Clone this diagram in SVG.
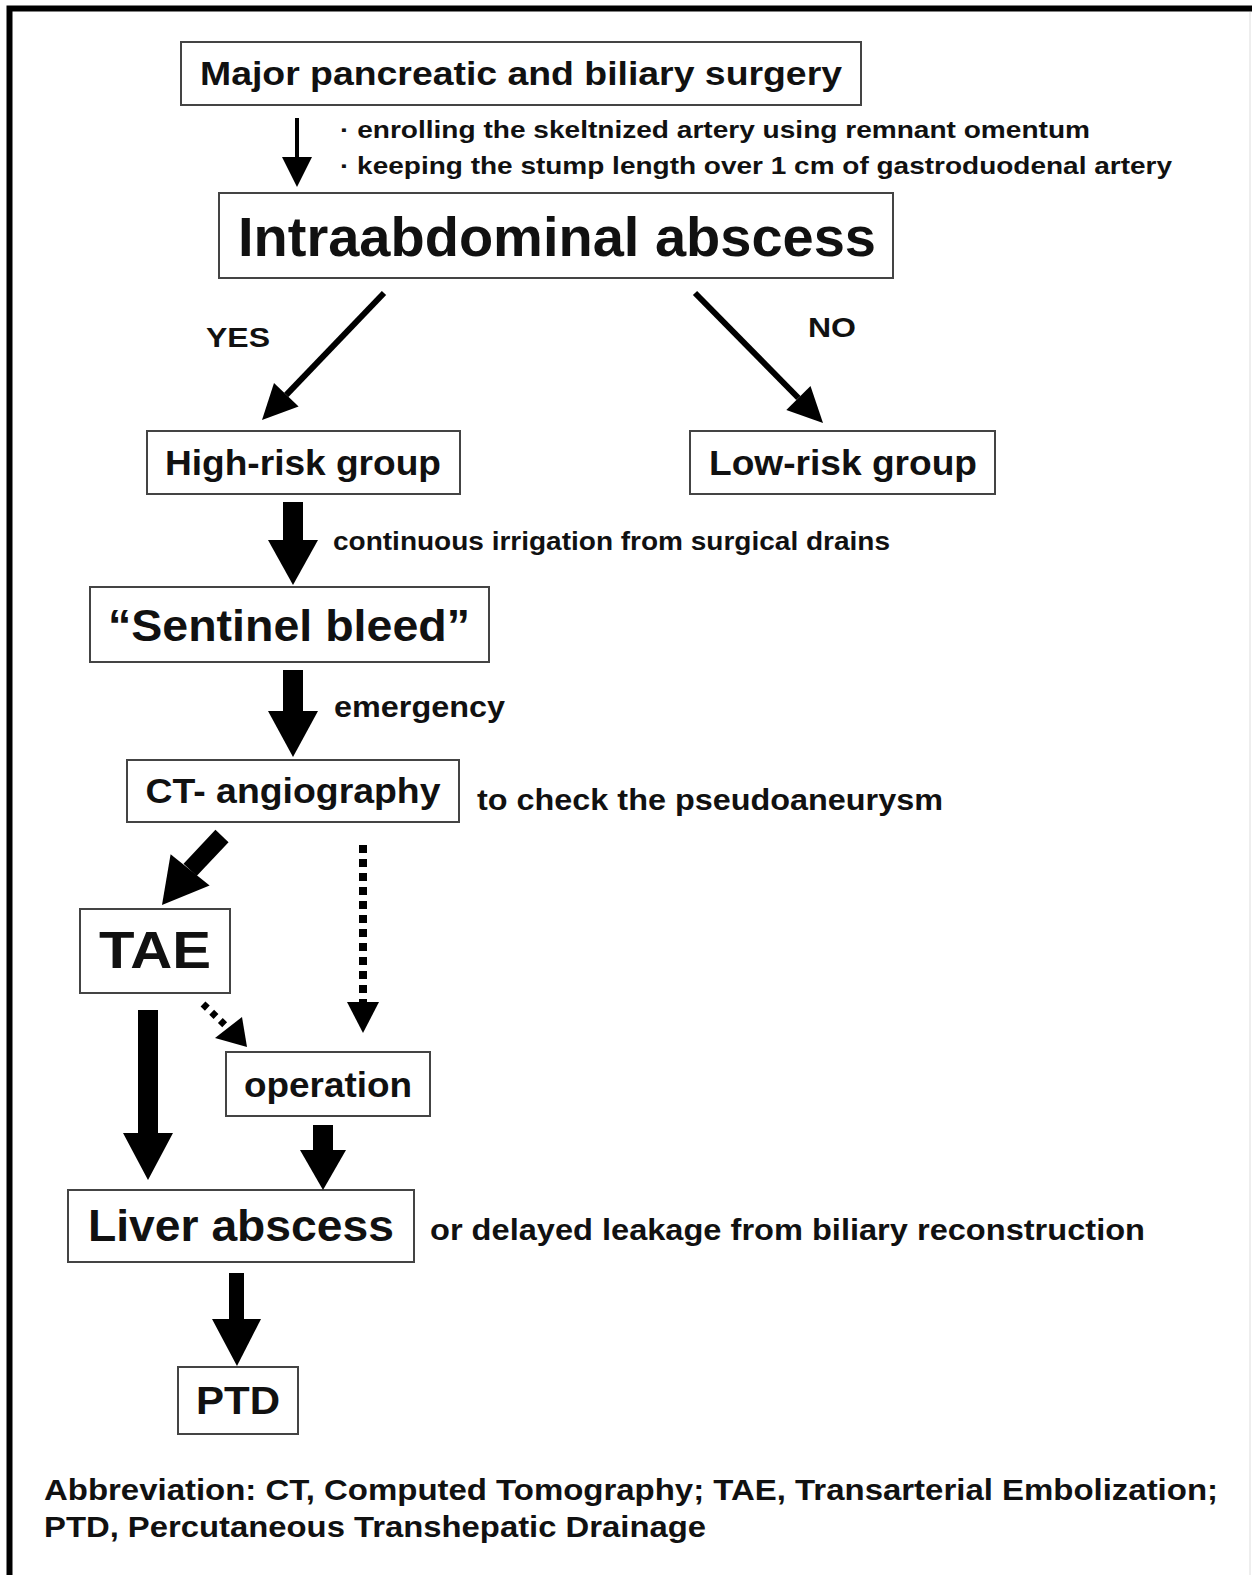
<svg xmlns="http://www.w3.org/2000/svg" width="1252" height="1575" viewBox="0 0 1252 1575">
<style>
text{font-family:"Liberation Sans",Arial,Helvetica,sans-serif;font-weight:bold;fill:#111}
.box{fill:#fff;stroke:#444;stroke-width:2}
.c{text-anchor:middle}
</style>
<rect x="0" y="0" width="1252" height="1575" fill="#fff"/>
<path d="M9.5 1575 V8.5 H1252" fill="none" stroke="#000" stroke-width="6"/>
<line x1="1250" y1="12" x2="1250" y2="1575" stroke="#ddd" stroke-width="1"/>

<g id="n1"><rect class="box" x="181" y="42" width="680" height="63"/><text x="521" y="85" font-size="33" class="c" textLength="642" lengthAdjust="spacingAndGlyphs">Major pancreatic and biliary surgery</text></g>
<g id="n2"><rect class="box" x="219" y="193" width="674" height="85"/><text x="557" y="256" font-size="56" class="c" textLength="638" lengthAdjust="spacingAndGlyphs">Intraabdominal abscess</text></g>
<g id="n3"><rect class="box" x="147" y="431" width="313" height="63"/><text x="303" y="475" font-size="35" class="c" textLength="276" lengthAdjust="spacingAndGlyphs">High-risk group</text></g>
<g id="n4"><rect class="box" x="690" y="431" width="305" height="63"/><text x="843" y="475" font-size="35" class="c" textLength="268" lengthAdjust="spacingAndGlyphs">Low-risk group</text></g>
<g id="n5"><rect class="box" x="90" y="587" width="399" height="75"/><text x="289" y="641" font-size="45" class="c" textLength="362" lengthAdjust="spacingAndGlyphs">“Sentinel bleed”</text></g>
<g id="n6"><rect class="box" x="127" y="760" width="332" height="62"/><text x="293" y="803" font-size="35" class="c" textLength="295" lengthAdjust="spacingAndGlyphs">CT- angiography</text></g>
<g id="n7"><rect class="box" x="80" y="909" width="150" height="84"/><text x="155" y="968" font-size="52" class="c" textLength="112" lengthAdjust="spacingAndGlyphs">TAE</text></g>
<g id="n8"><rect class="box" x="226" y="1052" width="204" height="64"/><text x="328" y="1097" font-size="35" class="c" textLength="168" lengthAdjust="spacingAndGlyphs">operation</text></g>
<g id="n9"><rect class="box" x="68" y="1190" width="346" height="72"/><text x="241" y="1241" font-size="45" class="c" textLength="306" lengthAdjust="spacingAndGlyphs">Liver abscess</text></g>
<g id="n10"><rect class="box" x="178" y="1367" width="120" height="67"/><text x="238" y="1414" font-size="39" class="c" textLength="84" lengthAdjust="spacingAndGlyphs">PTD</text></g>

<g id="connectors" fill="#000">
<line x1="297" y1="118" x2="297" y2="160" stroke="#000" stroke-width="4"/>
<polygon points="282,157 312,157 297,187"/>
<line x1="384" y1="293" x2="286.3" y2="394.8" stroke="#000" stroke-width="6"/>
<polygon points="262,420 298.6,406.6 274,383"/>
<line x1="695" y1="293" x2="798.4" y2="398" stroke="#000" stroke-width="6"/>
<polygon points="823,423 810.5,386.1 786.3,409.9"/>
<rect x="283" y="502" width="20" height="40"/>
<polygon points="268,540 318,540 293,585"/>
<rect x="283" y="670" width="20" height="43"/>
<polygon points="268,711 318,711 293,757"/>
<line x1="222" y1="836" x2="190.1" y2="869.9" stroke="#000" stroke-width="18"/>
<polygon points="162,905 209.6,885.5 170.6,854.3"/>
<line x1="363" y1="845" x2="363" y2="1003" stroke="#000" stroke-width="8" stroke-dasharray="8 6"/>
<polygon points="347,1002 379,1002 363,1033"/>
<line x1="203" y1="1004" x2="226" y2="1026" stroke="#000" stroke-width="7" stroke-dasharray="6 6"/>
<polygon points="247,1047 215,1038 242,1017"/>
<rect x="138" y="1010" width="20" height="125"/>
<polygon points="123,1133 173,1133 148,1180"/>
<rect x="313" y="1125" width="20" height="27"/>
<polygon points="300,1150 346,1150 323,1190"/>
<rect x="229" y="1273" width="15" height="48"/>
<polygon points="212,1319 261,1319 237,1366"/>
</g>

<g id="labels">
<text x="340" y="138" font-size="24" textLength="750" lengthAdjust="spacingAndGlyphs">· enrolling the skeltnized artery using remnant omentum</text>
<text x="340" y="174" font-size="24" textLength="832" lengthAdjust="spacingAndGlyphs">· keeping the stump length over 1 cm of gastroduodenal artery</text>
<text x="206" y="347" font-size="28" textLength="64" lengthAdjust="spacingAndGlyphs">YES</text>
<text x="808" y="337" font-size="28" textLength="48" lengthAdjust="spacingAndGlyphs">NO</text>
<text x="333" y="550" font-size="25" textLength="557" lengthAdjust="spacingAndGlyphs">continuous irrigation from surgical drains</text>
<text x="334" y="717" font-size="29" textLength="171" lengthAdjust="spacingAndGlyphs">emergency</text>
<text x="477" y="810" font-size="29" textLength="466" lengthAdjust="spacingAndGlyphs">to check the pseudoaneurysm</text>
<text x="430" y="1240" font-size="29" textLength="715" lengthAdjust="spacingAndGlyphs">or delayed leakage from biliary reconstruction</text>
<text x="44" y="1500" font-size="30" textLength="1174" lengthAdjust="spacingAndGlyphs">Abbreviation: CT, Computed Tomography; TAE, Transarterial Embolization;</text>
<text x="44" y="1537" font-size="30" textLength="662" lengthAdjust="spacingAndGlyphs">PTD, Percutaneous Transhepatic Drainage</text>
</g>
</svg>
